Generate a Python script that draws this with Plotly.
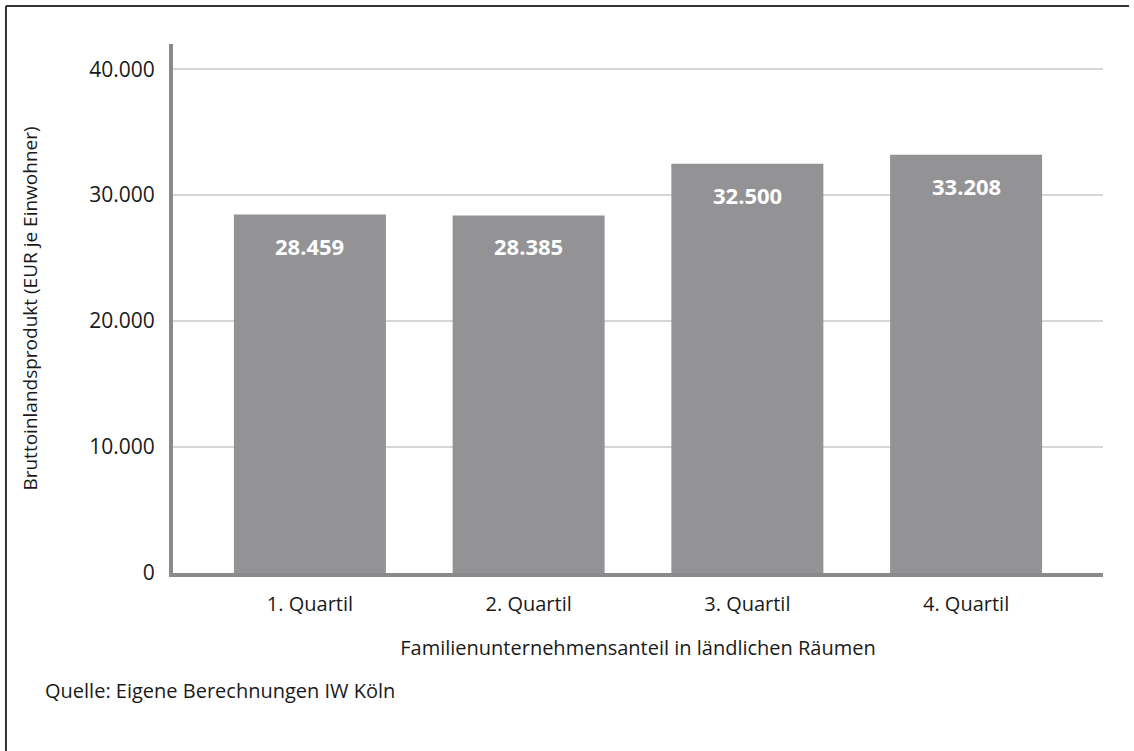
import plotly.graph_objects as go

# data
quartile_labels = ["1. Quartil", "2. Quartil", "3. Quartil", "4. Quartil"]
gdp_per_capita = [28459, 28385, 32500, 33208]
value_labels = ["28.459", "28.385", "32.500", "33.208"]
y_tick_values = [0, 10000, 20000, 30000, 40000]
y_tick_labels = ["0", "10.000", "20.000", "30.000", "40.000"]

FONT = "Open Sans"
TEXT_COLOR = "#1a1a1a"
BAR_COLOR = "#939396"
AXIS_COLOR = "#8a8a8d"

fig = go.Figure()
fig.add_trace(go.Bar(
    x=list(range(len(quartile_labels))),
    y=gdp_per_capita,
    width=0.695,
    marker=dict(color=BAR_COLOR, line=dict(width=0)),
    hoverinfo="skip",
))

# value labels inside the bars, a bit below the top
for i, (v, lbl) in enumerate(zip(gdp_per_capita, value_labels)):
    fig.add_annotation(
        x=i, y=v, text="<b>" + lbl + "</b>", showarrow=False,
        yanchor="middle", yshift=-31,
        font=dict(family=FONT, size=22, color="white"),
    )

fig.update_layout(
    width=1134, height=751,
    margin=dict(l=173, r=31, t=44, b=178),
    plot_bgcolor="white",
    paper_bgcolor="white",
    showlegend=False,
    font=dict(family=FONT, size=20, color=TEXT_COLOR),
    xaxis=dict(
        range=[-0.626, 3.626],
        tickvals=list(range(len(quartile_labels))),
        ticktext=quartile_labels,
        showgrid=False, zeroline=False,
        showline=True, linecolor=AXIS_COLOR, linewidth=4,
        ticks="", ticklabelstandoff=10,
        tickfont=dict(size=20),
        title=dict(text="Familienunternehmensanteil in ländlichen Räumen",
                   standoff=26, font=dict(size=20)),
    ),
    yaxis=dict(
        range=[0, 42000],
        tickvals=y_tick_values,
        ticktext=y_tick_labels,
        showgrid=True, gridcolor="#d6d6d6", gridwidth=2,
        zeroline=False,
        showline=True, linecolor=AXIS_COLOR, linewidth=4,
        ticks="", ticklabelstandoff=10,
        tickfont=dict(size=21),
        title=dict(text="Bruttoinlandsprodukt (EUR je Einwohner)",
                   standoff=48, font=dict(size=19)),
    ),
)

# outer frame: only the left and top edges are visible
fig.add_shape(type="line", xref="paper", yref="paper",
              x0=-0.1796, x1=-0.1796, y0=-0.5, y1=1.0718,
              line=dict(color="#333333", width=2), layer="below")
fig.add_shape(type="line", xref="paper", yref="paper",
              x0=-0.1796, x1=1.028, y0=1.0718, y1=1.0718,
              line=dict(color="#333333", width=2), layer="below")

fig.add_annotation(
    text="Quelle: Eigene Berechnungen IW Köln",
    xref="paper", yref="paper", x=-0.1398, y=-0.222,
    xanchor="left", yanchor="middle", showarrow=False,
    font=dict(family=FONT, size=20, color=TEXT_COLOR),
)

fig.write_html("out.html", config={"displayModeBar": False},
               post_script="document.body.style.margin='0';")
